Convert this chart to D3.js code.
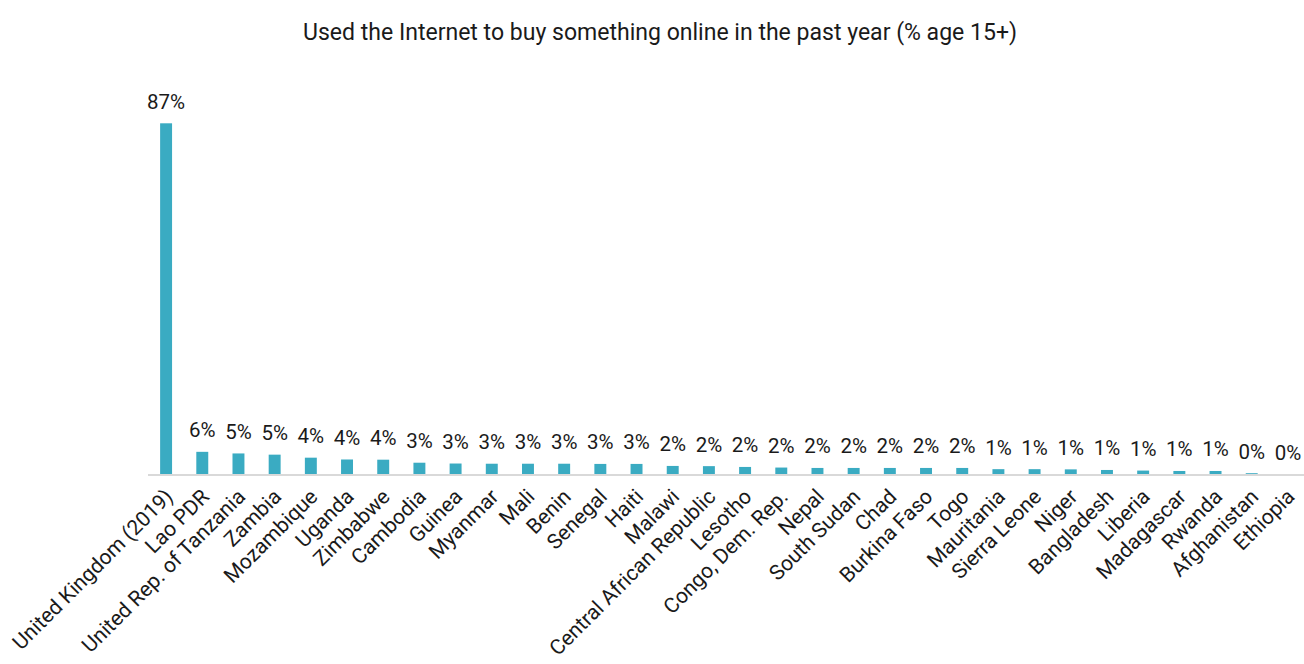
<!DOCTYPE html>
<html>
<head>
<meta charset="utf-8">
<script src="https://cdn.jsdelivr.net/npm/d3@7"></script>
<style>
  html, body { margin: 0; padding: 0; background: #fff; }
  svg { display: block; }
</style>
</head>
<body>
<svg id="chart" width="1304" height="664"></svg>
<script>
const title = "Used the Internet to buy something online in the past year (% age 15+)";
const countries = [
  "United Kingdom (2019)", "Lao PDR", "United Rep. of Tanzania", "Zambia", "Mozambique",
  "Uganda", "Zimbabwe", "Cambodia", "Guinea", "Myanmar", "Mali", "Benin", "Senegal", "Haiti",
  "Malawi", "Central African Republic", "Lesotho", "Congo, Dem. Rep.", "Nepal", "South Sudan",
  "Chad", "Burkina Faso", "Togo", "Mauritania", "Sierra Leone", "Niger", "Bangladesh",
  "Liberia", "Madagascar", "Rwanda", "Afghanistan", "Ethiopia"
];
const values = [
  87, 5.5, 5.1, 4.8, 4.05,
  3.6, 3.55, 2.8, 2.6, 2.55, 2.55, 2.55, 2.5, 2.5,
  2.0, 1.95, 1.75, 1.6, 1.5, 1.5,
  1.5, 1.5, 1.5, 1.2, 1.2, 1.15, 1.0,
  0.85, 0.75, 0.75, 0.2, 0
];

const svg = d3.select("#chart");
const FONT = "Roboto, 'Liberation Sans', Arial, sans-serif";
const baseY = 474;

const x = d3.scaleBand().domain(countries).range([148, 1306]).paddingInner(0.67).paddingOuter(0.335);
const y = d3.scaleLinear().domain([0, 87]).range([baseY, 123.3]);

// Title
svg.append("text")
  .attr("x", 660).attr("y", 40)
  .attr("text-anchor", "middle")
  .attr("font-family", FONT)
  .attr("font-size", 24)
  .attr("fill", "#1a1a1a")
  .attr("textLength", 714)
  .attr("lengthAdjust", "spacingAndGlyphs")
  .text(title);

// Bars
const data = countries.map((c, i) => ({ c, v: values[i] }));
svg.append("g").selectAll("rect").data(data).join("rect")
  .attr("x", d => x(d.c))
  .attr("width", x.bandwidth())
  .attr("y", d => y(d.v))
  .attr("height", d => baseY - y(d.v))
  .attr("fill", "#3aabc2");

// Axis line
svg.append("line")
  .attr("x1", 148).attr("x2", 1304)
  .attr("y1", baseY + 1).attr("y2", baseY + 1)
  .attr("stroke", "#d9d9d9").attr("stroke-width", 2);

// Value labels
svg.append("g").selectAll("text").data(data).join("text")
  .attr("x", d => x(d.c) + x.bandwidth() / 2)
  .attr("y", d => y(d.v) - 14.5)
  .attr("text-anchor", "middle")
  .attr("font-family", FONT)
  .attr("font-size", 20.5)
  .attr("fill", "#1a1a1a")
  .text(d => Math.round(d.v) + "%");

// Category labels
svg.append("g").selectAll("text").data(data).join("text")
  .attr("transform", d => `translate(${x(d.c) + x.bandwidth() / 2 + 8},${baseY + 24}) rotate(-45)`)
  .attr("text-anchor", "end")
  .attr("font-family", FONT)
  .attr("font-size", 21)
  .attr("fill", "#1a1a1a")
  .text(d => d.c);
</script>
</body>
</html>
